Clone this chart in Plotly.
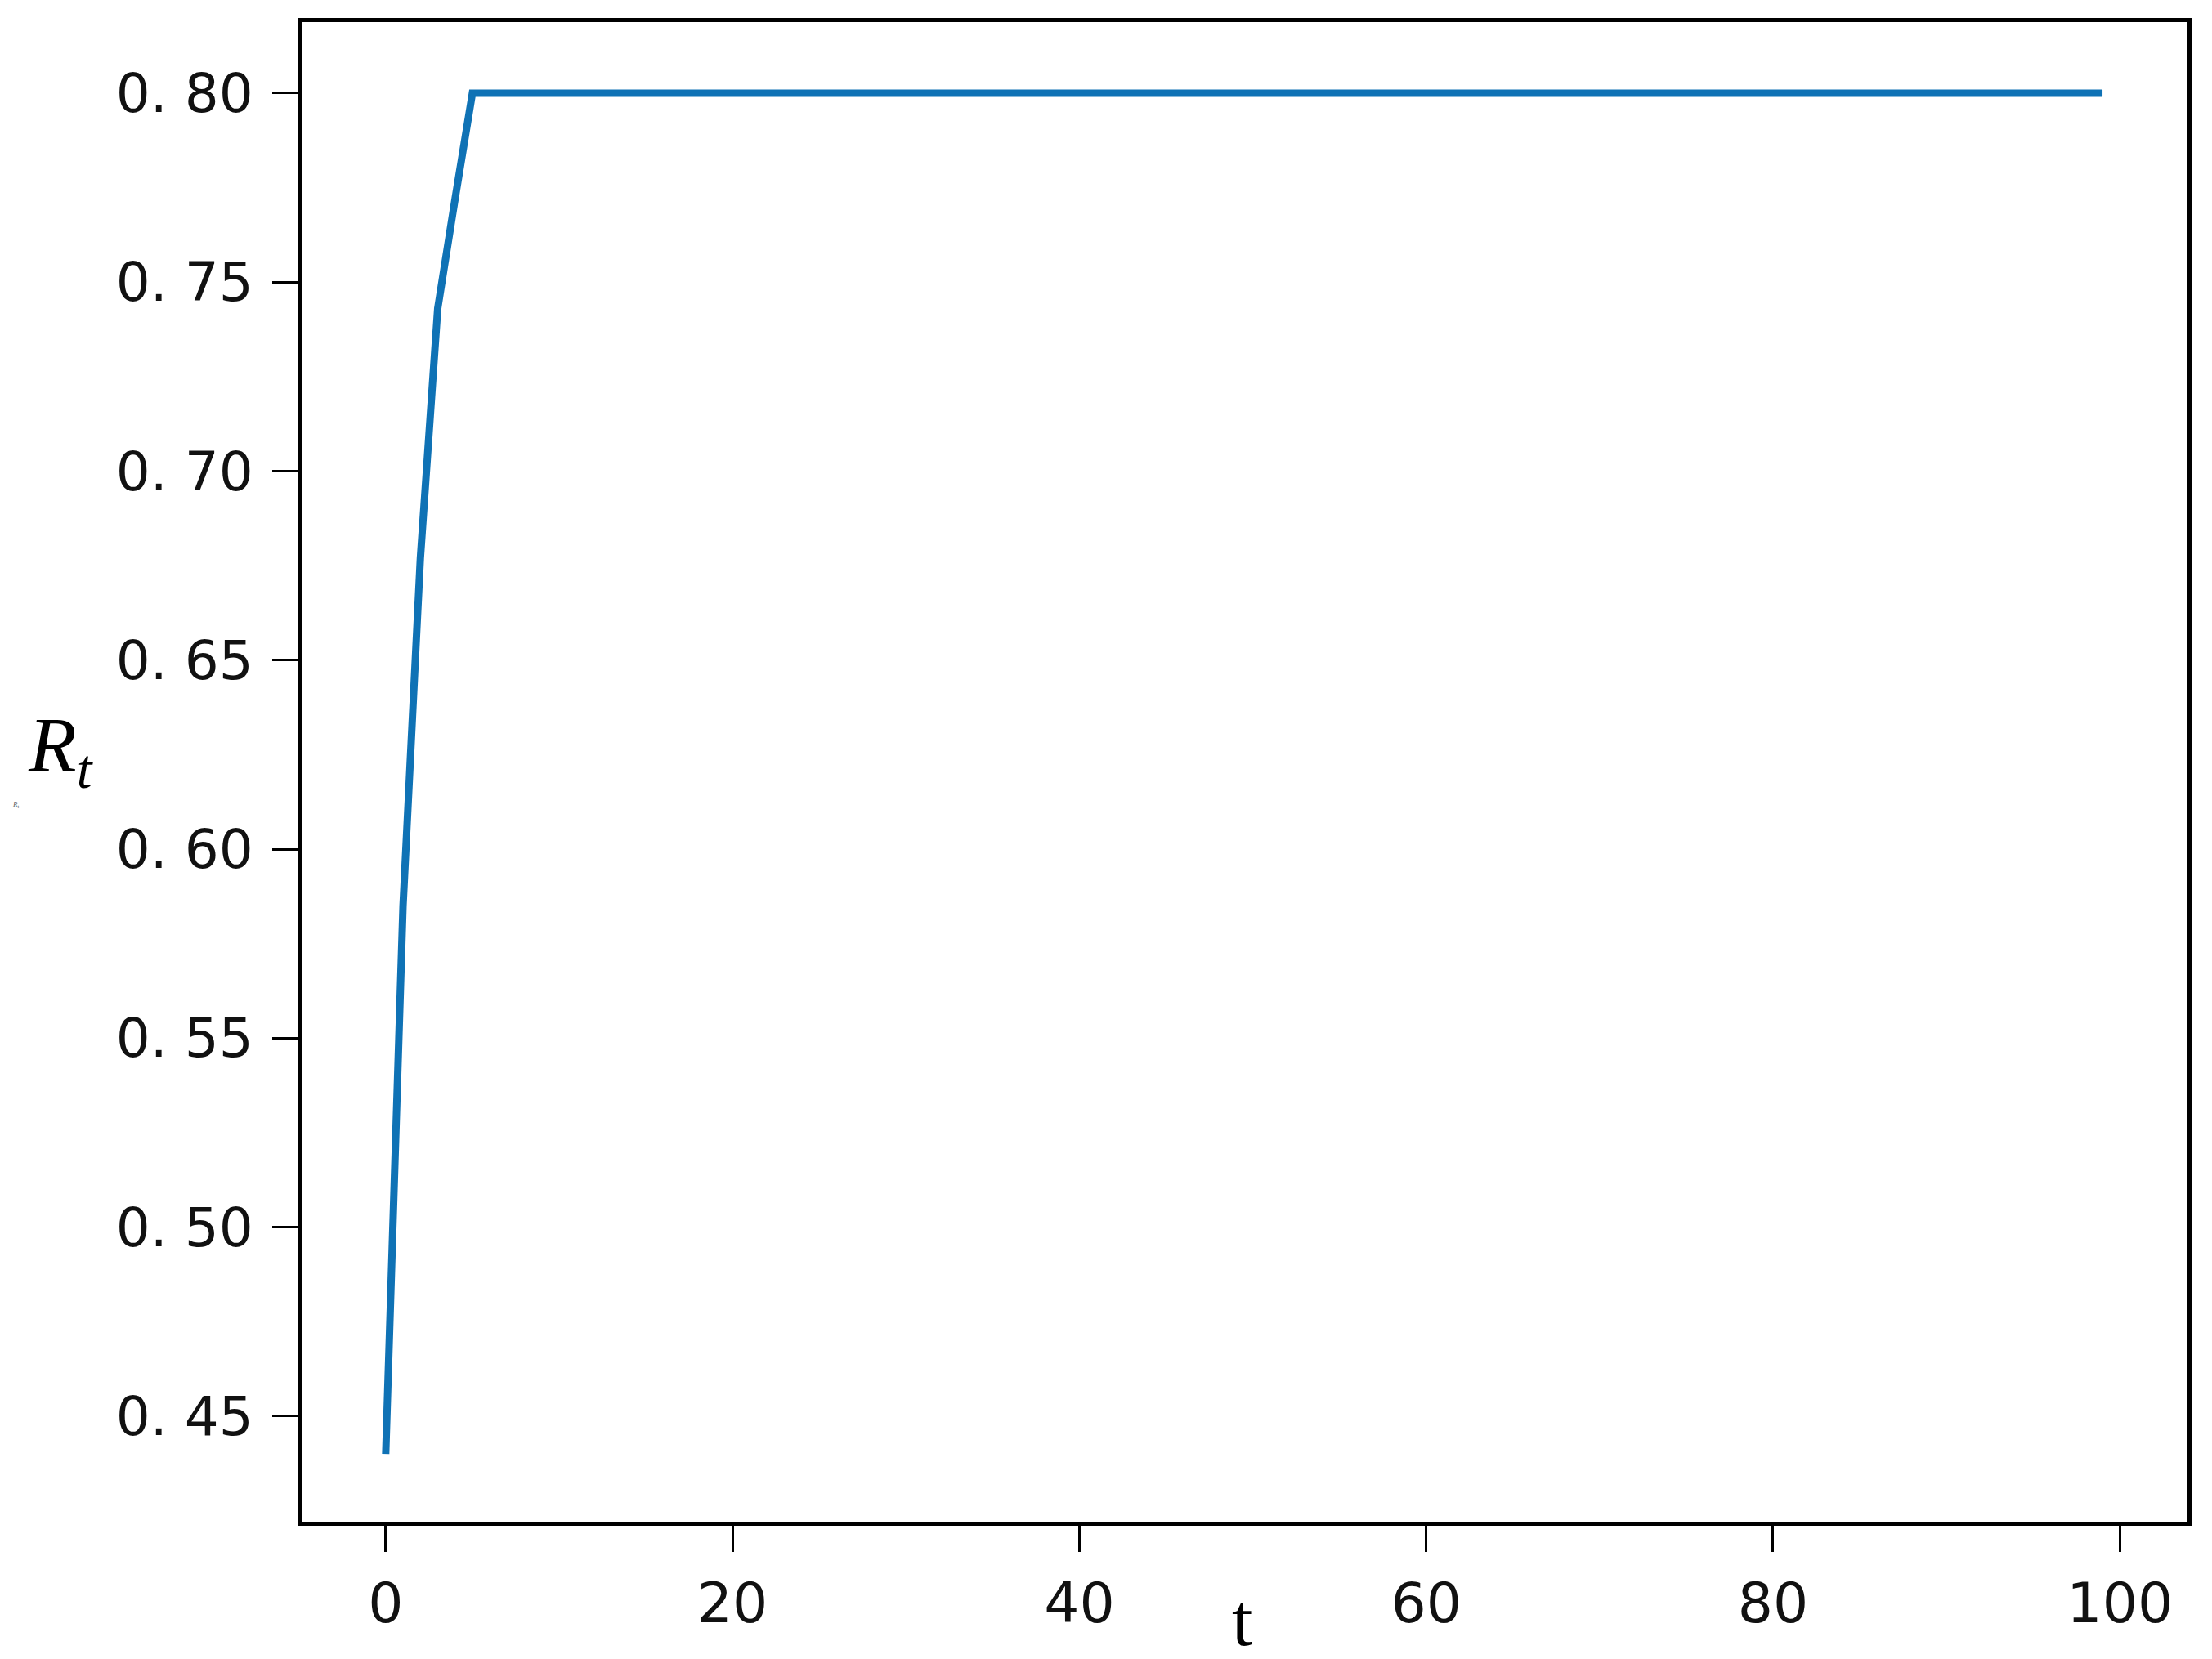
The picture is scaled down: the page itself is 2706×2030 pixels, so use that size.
import plotly.graph_objects as go

# t runs 0..99; the value climbs for the first few steps then holds at 0.80
T_VALUES = list(range(100))
RT_START = [0.44, 0.585, 0.677, 0.743, 0.772]
RT_PLATEAU = 0.80
RT_VALUES = RT_START + [RT_PLATEAU] * (len(T_VALUES) - len(RT_START))

X_TICKS = [0, 20, 40, 60, 80, 100]
Y_TICKS = [0.45, 0.50, 0.55, 0.60, 0.65, 0.70, 0.75, 0.80]
Y_TICK_TEXT = ["0. 45", "0. 50", "0. 55", "0. 60", "0. 65", "0. 70", "0. 75", "0. 80"]

LINE_COLOR = "#0f72b5"

fig = go.Figure()
fig.add_trace(go.Scatter(
    x=T_VALUES, y=RT_VALUES, mode="lines",
    line=dict(color=LINE_COLOR, width=9),
    showlegend=False,
))

axis_common = dict(
    showline=True, linecolor="black", linewidth=5, mirror=True,
    ticks="outside", ticklen=32, tickwidth=3, tickcolor="black",
    showgrid=False, zeroline=False, automargin=False,
)

fig.update_layout(
    template="none",
    width=2706, height=2030,
    margin=dict(l=362, r=38, t=19, b=176),
    paper_bgcolor="white", plot_bgcolor="white",
    xaxis=dict(
        range=[-4.8, 103.9], tickvals=X_TICKS,
        tickfont=dict(family="DejaVu Sans", size=68, color="#111"),
        ticklabelstandoff=4,
        **axis_common,
    ),
    yaxis=dict(
        range=[0.4221, 0.8188], tickvals=Y_TICKS, ticktext=Y_TICK_TEXT,
        tickfont=dict(family="DejaVu Sans", size=66, color="#111"),
        ticklabelstandoff=10,
        **axis_common,
    ),
    annotations=[
        dict(text="t", xref="paper", yref="paper", x=0.4987, y=-0.0945,
             xanchor="center", yanchor="bottom", showarrow=False,
             font=dict(family="Liberation Serif", size=92, color="black")),
        dict(text="<i>R</i><sub><i>t</i></sub>", xref="paper", yref="paper",
             x=-0.128, y=0.514, xanchor="center", yanchor="middle", showarrow=False,
             font=dict(family="Liberation Serif", size=96, color="black")),
        dict(text="<i>R</i><sub>t</sub>", xref="paper", yref="paper",
             x=-0.152, y=0.478, xanchor="center", yanchor="middle", showarrow=False,
             font=dict(family="Liberation Serif", size=9, color="#666")),
    ],
)

fig.write_html("out.html")
